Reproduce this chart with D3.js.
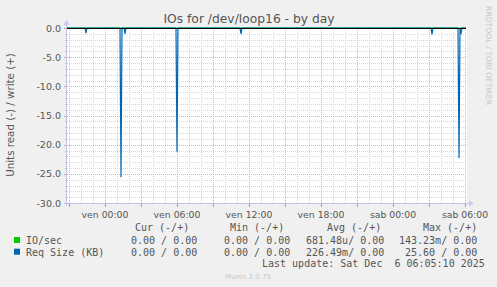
<!DOCTYPE html>
<html><head><meta charset="utf-8">
<script src="https://cdn.jsdelivr.net/npm/d3@7"></script>
<style>
html,body{margin:0;padding:0;background:#f0f0f0;}
svg{display:block;}
</style></head>
<body>
<script>
// ---- data ----
const title = "IOs for /dev/loop16 - by day";
const yTitle = "Units read (-) / write (+)";
const yTicks = [0, -5, -10, -15, -20, -25, -30];
const xTickDates = [[2025,11,5,0,0],[2025,11,5,6,0],[2025,11,5,12,0],[2025,11,5,18,0],[2025,11,6,0,0],[2025,11,6,6,0]];
const xTickLabels = ["ven 00:00","ven 06:00","ven 12:00","ven 18:00","sab 00:00","sab 06:00"];
const domainStart = [2025,11,4,20,50];
const domainEnd = [2025,11,6,6,10];
const dataEnd = [2025,11,6,6,5];
// Req Size (KB) read (negative) — [day, hour, minute, value]
const reqSize = [
  [4,20,50,0],[4,22,20,0],[4,22,25,-0.9],[4,22,30,0],
  [5,1,15,0],[5,1,20,-25.6],[5,1,25,0],[5,1,35,0],[5,1,40,-1.0],[5,1,45,0],
  [5,5,55,0],[5,6,0,-21.2],[5,6,5,0],
  [5,11,15,0],[5,11,20,-1.0],[5,11,25,0],
  [6,3,10,0],[6,3,15,-1.1],[6,3,20,0],
  [6,5,25,0],[6,5,30,-22.3],[6,5,35,0],[6,5,40,-1.0],[6,5,45,0],[6,6,5,0]
];
// IO/sec read (negative)
const ioSec = [
  [4,20,50,0],[5,1,15,0],[5,1,20,-0.14],[5,1,25,0],
  [5,5,55,0],[5,6,0,-0.12],[5,6,5,0],
  [6,5,25,0],[6,5,30,-0.13],[6,5,35,0],[6,6,5,0]
];
const legendHeader = ["Cur (-/+)","Min (-/+)","Avg (-/+)","Max (-/+)"];
const legendNames = ["IO/sec","Req Size (KB)"];
const legendColors = ["#00cc00","#0066b3"];
const legendRows = [
  ["0.00 / 0.00","0.00 / 0.00","681.48u/ 0.00","143.23m/ 0.00"],
  ["0.00 / 0.00","0.00 / 0.00","226.49m/ 0.00"," 25.60 / 0.00"]
];
const lastUpdate = "Last update: Sat Dec  6 06:05:10 2025";
const munin = "Munin 2.0.75";
const rrd = "RRDTOOL / TOBI OETIKER";

// ---- drawing ----
const W = 497, H = 287;
const L = 67, R = 467, T = 28, B = 203;
const mk = a => new Date(a[0],a[1],a[2],a[3],a[4]);
const pt = a => ({t: new Date(2025,11,a[0],a[1],a[2]), v: a[3]});

const svg = d3.select("body").append("svg").attr("width",W).attr("height",H);
svg.append("rect").attr("width",W).attr("height",H).attr("fill","#f0f0f0");

const x = d3.scaleTime().domain([mk(domainStart), mk(domainEnd)]).range([L, R]);
const y = d3.scaleLinear().domain([-30, 0]).range([B, T]);

svg.append("rect").attr("x",L).attr("y",T).attr("width",R-L).attr("height",B-T).attr("fill","#ffffff");

const g = svg.append("g");
// minor grid
const hourTicks = d3.timeHour.every(1).range(mk(domainStart), mk(domainEnd));
const majTicks = d3.timeHour.every(3).range(mk(domainStart), mk(domainEnd));
const minorY = d3.range(-30, 0.5, 1);
g.selectAll(".vx").data(hourTicks).join("line")
  .attr("x1",d=>Math.round(x(d))+0.5).attr("x2",d=>Math.round(x(d))+0.5)
  .attr("y1",T).attr("y2",B).attr("stroke","#d8d8d8").attr("stroke-dasharray","1,1");
g.selectAll(".hy").data(minorY).join("line")
  .attr("x1",L).attr("x2",R).attr("y1",d=>Math.round(y(d))+0.5).attr("y2",d=>Math.round(y(d))+0.5)
  .attr("stroke","#d8d8d8").attr("stroke-dasharray","1,1");
// major grid
g.selectAll(".mx").data(majTicks).join("line")
  .attr("x1",d=>Math.round(x(d))+0.5).attr("x2",d=>Math.round(x(d))+0.5)
  .attr("y1",T).attr("y2",B).attr("stroke","#f0a8a8").attr("stroke-dasharray","1,1");
g.selectAll(".my").data(yTicks).join("line")
  .attr("x1",L).attr("x2",R).attr("y1",d=>Math.round(y(d))+0.5).attr("y2",d=>Math.round(y(d))+0.5)
  .attr("stroke","#f0a8a8").attr("stroke-dasharray","1,1");

// axis ticks
g.selectAll(".tx").data(majTicks).join("line")
  .attr("x1",d=>Math.round(x(d))+0.5).attr("x2",d=>Math.round(x(d))+0.5)
  .attr("y1",B+1).attr("y2",B+4).attr("stroke","#e88080");
g.selectAll(".ty").data(yTicks).join("line")
  .attr("x1",L-3).attr("x2",L).attr("y1",d=>Math.round(y(d))+0.5).attr("y2",d=>Math.round(y(d))+0.5)
  .attr("stroke","#e88080");
g.selectAll(".tym").data(minorY).join("line")
  .attr("x1",L-2).attr("x2",L).attr("y1",d=>Math.round(y(d))+0.5).attr("y2",d=>Math.round(y(d))+0.5)
  .attr("stroke","#c8c8c8");

// axes lines + arrows
svg.append("line").attr("x1",L-0.5).attr("x2",L-0.5).attr("y1",B+3).attr("y2",T-4).attr("stroke","#c0c0e8");
svg.append("line").attr("x1",L-3).attr("x2",R+2).attr("y1",B+0.5).attr("y2",B+0.5).attr("stroke","#c0c0e8");
svg.append("path").attr("d",`M${L-3.5},${T-3} L${L+2.5},${T-3} L${L-0.5},${T-8} Z`).attr("fill","#c8c8f0");
svg.append("path").attr("d",`M${R+2},${B-2.5} L${R+2},${B+3.5} L${R+7},${B+0.5} Z`).attr("fill","#c8c8f0");

// y tick labels
svg.selectAll(".yl").data(yTicks).join("text")
  .attr("x",L-6).attr("y",d=>y(d)+3.5).attr("text-anchor","end")
  .attr("font-family","DejaVu Sans").attr("font-size","9.5px").attr("fill","#555")
  .text(d=>d3.format(".1f")(d).replace("−","-"));
// x tick labels
svg.selectAll(".xl").data(xTickDates).join("text")
  .attr("x",d=>x(mk(d))).attr("y",B+14.5).attr("text-anchor","middle")
  .attr("font-family","DejaVu Sans").attr("font-size","9.3px").attr("fill","#555")
  .text((d,i)=>xTickLabels[i]);

// data lines
const line = d3.line().x(d=>x(d.t)).y(d=>y(d.v));
svg.append("path").datum(ioSec.map(pt)).attr("d",line).attr("fill","none").attr("stroke",legendColors[0]).attr("stroke-width",1);
svg.append("path").datum(reqSize.map(pt)).attr("d",line).attr("fill","none").attr("stroke",legendColors[1]).attr("stroke-width",1.2);
// zero rule
svg.append("line").attr("x1",L).attr("x2",x(mk(dataEnd))).attr("y1",y(0)+0.5).attr("y2",y(0)+0.5).attr("stroke","#000").attr("stroke-width",1);

// titles
svg.append("text").attr("x",249).attr("y",23).attr("text-anchor","middle")
  .attr("font-family","DejaVu Sans").attr("font-size","12.3px").attr("fill","#555").text(title);
svg.append("text").attr("transform","translate(14,115) rotate(-90)").attr("text-anchor","middle")
  .attr("font-family","DejaVu Sans").attr("font-size","10.3px").attr("fill","#555").text(yTitle);
svg.append("text").attr("transform","translate(486,6) rotate(90)").attr("text-anchor","start")
  .attr("font-family","DejaVu Sans").attr("font-size","7.7px").attr("fill","#c8c8c8").text(rrd);

// legend
const mono = "DejaVu Sans Mono";
const colX = [131, 224, 306, 399];
const hdrX = [135, 230, 327, 423];
svg.selectAll(".lh").data(legendHeader).join("text")
  .attr("x",(d,i)=>hdrX[i]).attr("y",231).attr("font-family",mono).attr("font-size","10px").attr("fill","#555")
  .style("white-space","pre").text(d=>d);
legendNames.forEach((name,i)=>{
  const yy = 244 + i*11.7;
  svg.append("rect").attr("x",14).attr("y",yy-7).attr("width",6).attr("height",6).attr("fill",legendColors[i]);
  svg.append("text").attr("x",26).attr("y",yy).attr("font-family",mono).attr("font-size","10px").attr("fill","#555").text(name);
  legendRows[i].forEach((v,j)=>{
    svg.append("text").attr("x",colX[j]).attr("y",yy).attr("font-family",mono).attr("font-size","10px").attr("fill","#555")
      .style("white-space","pre").text(v);
  });
});
svg.append("text").attr("x",262).attr("y",267).attr("font-family",mono).attr("font-size","10px").attr("fill","#555")
  .style("white-space","pre").text(lastUpdate);
svg.append("text").attr("x",248).attr("y",279).attr("text-anchor","middle").attr("font-family","DejaVu Sans").attr("font-size","7px").attr("fill","#c8c8c8").text(munin);
</script>
</body></html>
